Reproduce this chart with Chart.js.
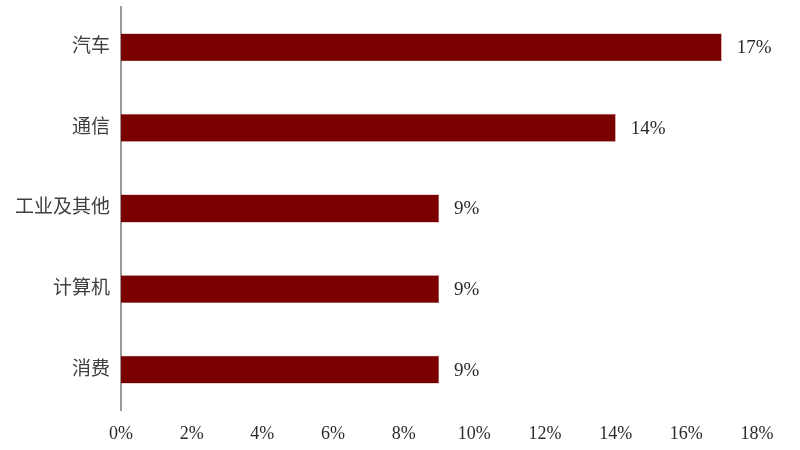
<!DOCTYPE html>
<html><head><meta charset="utf-8">
<script src="https://cdn.jsdelivr.net/npm/chart.js@4/dist/chart.umd.min.js"></script>
<style>html,body{margin:0;padding:0;background:#fff}#wrap{width:800px;height:450px}</style>
</head><body><div id="wrap"><canvas id="c" width="800" height="450"></canvas></div>
<script>
const categories = ["汽车", "通信", "工业及其他", "计算机", "消费"];
const values = [17, 14, 9, 9, 9];
const valueLabels = ["17%", "14%", "9%", "9%", "9%"];
const xTicks = [0, 2, 4, 6, 8, 10, 12, 14, 16, 18];

const FONT = '"Liberation Serif", "Times New Roman", "Noto Sans CJK SC", serif';

const labelPlugin = {
  id: 'valLabels',
  afterDatasetsDraw(chart) {
    const ctx = chart.ctx;
    const meta = chart.getDatasetMeta(0);
    ctx.save();
    ctx.font = '19px ' + FONT;
    ctx.fillStyle = '#2a2a2a';
    ctx.textAlign = 'left';
    ctx.textBaseline = 'middle';
    meta.data.forEach((bar, i) => {
      ctx.fillText(valueLabels[i], bar.x + 15, bar.y + 1);
    });
    ctx.restore();
  }
};

new Chart(document.getElementById('c'), {
  type: 'bar',
  data: {
    labels: categories,
    datasets: [{
      data: values,
      backgroundColor: '#7a0000',
      borderColor: '#a84848',
      borderWidth: 0.5,
      barPercentage: 1,
      categoryPercentage: 0.345
    }]
  },
  options: {
    indexAxis: 'y',
    responsive: false,
    animation: false,
    layout: { padding: { top: 7, right: 43, bottom: 0, left: 0 } },
    plugins: { legend: { display: false }, tooltip: { enabled: false } },
    scales: {
      x: {
        min: 0, max: 18,
        afterBuildTicks(scale) { scale.ticks = xTicks.map(v => ({ value: v })); },
        afterFit(scale) { scale.height = 40; scale.paddingLeft = 0; },
        grid: { display: false, drawTicks: false },
        border: { display: false },
        ticks: {
          padding: 13,
          color: '#2a2a2a',
          font: { family: FONT, size: 18 },
          callback: v => v + '%',
          maxRotation: 0
        }
      },
      y: {
        afterFit(scale) { scale.width = 121; scale.paddingTop = 0; scale.paddingBottom = 0; },
        grid: { display: false, drawTicks: false },
        border: { display: true, color: '#999', width: 2 },
        ticks: {
          padding: 11,
          color: '#404040',
          font: { family: FONT, size: 19 }
        }
      }
    }
  },
  plugins: [labelPlugin]
});
</script></body></html>
